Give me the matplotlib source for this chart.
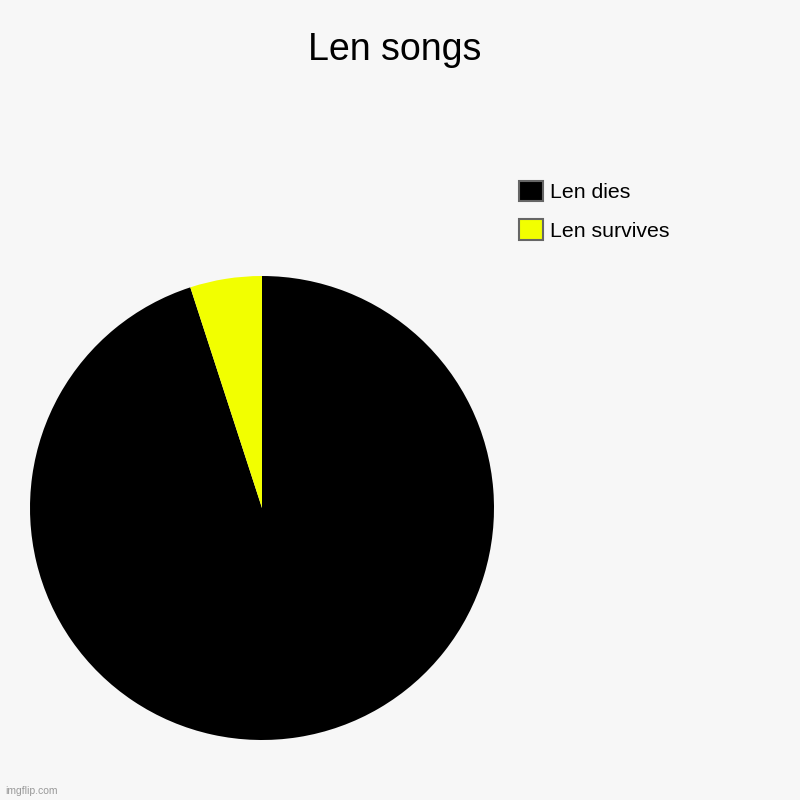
import matplotlib.pyplot as plt
from matplotlib.patches import Patch

plt.rcParams['font.family'] = ['Liberation Sans', 'DejaVu Sans']

# Chart data
labels = ['Len dies', 'Len survives']
values = [95, 5]
colors = ['#000000', '#f2ff00']

fig = plt.figure(figsize=(8, 8), dpi=100)
fig.patch.set_facecolor('#f7f7f7')

# Pie axes
ax = fig.add_axes([30 / 800, 60 / 800, 464 / 800, 464 / 800])
ax.set_facecolor('#f7f7f7')
ax.pie(values, colors=colors, startangle=90, counterclock=False,
       wedgeprops=dict(linewidth=0))
ax.set_xlim(-1, 1)
ax.set_ylim(-1, 1)
ax.set_aspect('equal')
ax.axis('off')

fig.text(0.493, 0.937, 'Len songs', ha='center', va='center', fontsize=27)

# Legend with grey-edged square swatches
handles = [Patch(facecolor=c, edgecolor='#666666', linewidth=1.5) for c in colors]
fig.legend(handles, labels, loc='upper left', bbox_to_anchor=(0.636, 0.787),
           frameon=False, fontsize=15.3, borderpad=0, handlelength=1.1,
           handleheight=1.1, handletextpad=0.35, labelspacing=0.8)

fig.text(0.006, 0.005, 'imgflip.com', fontsize=7.5, color='#999999',
         ha='left', va='bottom')

fig.savefig('out.png', dpi=100, facecolor=fig.get_facecolor())
